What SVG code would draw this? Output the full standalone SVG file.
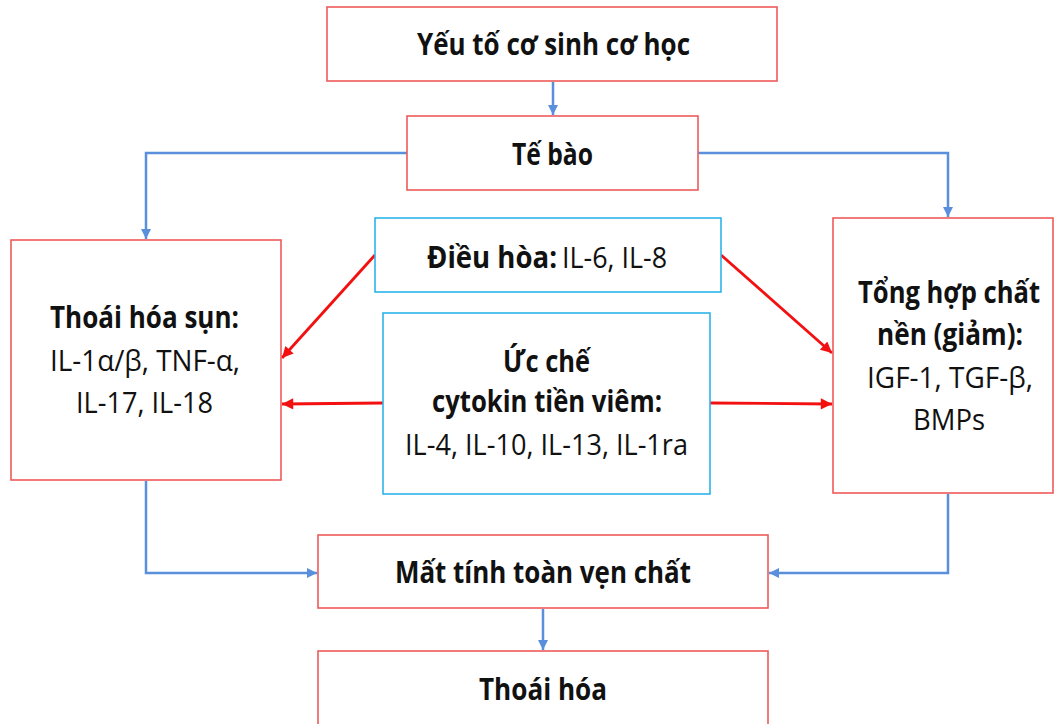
<svg xmlns="http://www.w3.org/2000/svg" width="1055" height="724" viewBox="0 0 1055 724">
  <style>
    .box { fill: #ffffff; stroke: #ee5a5a; stroke-width: 1.6; }
    .cbox { fill: #ffffff; stroke: #2bb5ea; stroke-width: 1.6; }
    .t { font-family: "Open Sans", "Noto Sans", "DejaVu Sans", sans-serif; font-size: 30px; fill: #111111; }
    .b { font-weight: bold; }
    .blue { fill: none; stroke: #5a8fdc; stroke-width: 2.5; marker-end: url(#ab); }
    .red { fill: none; stroke: #f21010; stroke-width: 2.8; marker-end: url(#ar); }
  </style>
  <defs>
    <marker id="ab" viewBox="0 0 10 10" refX="10" refY="5" markerWidth="4" markerHeight="4" markerUnits="strokeWidth" orient="auto">
      <path d="M0,0 L10,5 L0,10 Z" fill="#5a8fdc"/>
    </marker>
    <marker id="ar" viewBox="0 0 10 10" refX="10" refY="5" markerWidth="5" markerHeight="4" markerUnits="strokeWidth" orient="auto">
      <path d="M0,0 L10,5 L0,10 Z" fill="#f21010"/>
    </marker>
  </defs>
  <rect width="1055" height="724" fill="#ffffff"/>

  <!-- connectors -->
  <g id="connectors">
    <path class="blue" d="M553,82 L553,115"/>
    <path class="blue" d="M407,153 L146,153 L146,239"/>
    <path class="blue" d="M698,153 L948,153 L948,217"/>
    <path class="blue" d="M146,481 L146,573 L317,573"/>
    <path class="blue" d="M948,494 L948,573 L769,573"/>
    <path class="blue" d="M543,609 L543,650"/>
    <path class="red" d="M375,255 L282,358"/>
    <path class="red" d="M383,403 L282,404"/>
    <path class="red" d="M721,255 L832,353"/>
    <path class="red" d="M710,403 L832,404"/>
  </g>

  <g id="n-yeuto">
    <rect class="box" x="327" y="7" width="450" height="74"/>
    <text class="t b" x="417" y="55" textLength="273" lengthAdjust="spacingAndGlyphs">Yếu tố cơ sinh cơ học</text>
  </g>

  <g id="n-tebao">
    <rect class="box" x="407" y="116" width="291" height="74"/>
    <text class="t b" x="512" y="165" textLength="81" lengthAdjust="spacingAndGlyphs">Tế bào</text>
  </g>

  <g id="n-thoaihoasun">
    <rect class="box" x="11" y="240" width="270" height="240"/>
    <text class="t b" x="50" y="328" textLength="189" lengthAdjust="spacingAndGlyphs">Thoái hóa sụn:</text>
    <text class="t" x="50" y="371" textLength="190" lengthAdjust="spacingAndGlyphs">IL-1α/β, TNF-α,</text>
    <text class="t" x="76" y="413" textLength="137" lengthAdjust="spacingAndGlyphs">IL-17, IL-18</text>
  </g>

  <g id="n-dieuhoa">
    <rect class="cbox" x="375" y="218" width="346" height="74"/>
    <text class="t b" x="427" y="268" textLength="130" lengthAdjust="spacingAndGlyphs">Điều hòa:</text>
    <text class="t" x="562" y="268" textLength="105" lengthAdjust="spacingAndGlyphs">IL-6, IL-8</text>
  </g>

  <g id="n-ucche">
    <rect class="cbox" x="383" y="313" width="327" height="181"/>
    <text class="t b" x="503" y="372" textLength="87" lengthAdjust="spacingAndGlyphs">Ức chế</text>
    <text class="t b" x="432" y="412" textLength="230" lengthAdjust="spacingAndGlyphs">cytokin tiền viêm:</text>
    <text class="t" x="405" y="455" textLength="283" lengthAdjust="spacingAndGlyphs">IL-4, IL-10, IL-13, IL-1ra</text>
  </g>

  <g id="n-tonghop">
    <rect class="box" x="833" y="218" width="220" height="275"/>
    <text class="t b" x="858" y="303" textLength="182" lengthAdjust="spacingAndGlyphs">Tổng hợp chất</text>
    <text class="t b" x="877" y="345" textLength="146" lengthAdjust="spacingAndGlyphs">nền (giảm):</text>
    <text class="t" x="867" y="388" textLength="166" lengthAdjust="spacingAndGlyphs">IGF-1, TGF-β,</text>
    <text class="t" x="913" y="430" textLength="72" lengthAdjust="spacingAndGlyphs">BMPs</text>
  </g>

  <g id="n-mattinh">
    <rect class="box" x="318" y="535" width="450" height="73"/>
    <text class="t b" x="395" y="583" textLength="296" lengthAdjust="spacingAndGlyphs">Mất tính toàn vẹn chất</text>
  </g>

  <g id="n-thoaihoa">
    <rect class="box" x="318" y="651" width="450" height="80"/>
    <text class="t b" x="479" y="700" textLength="128" lengthAdjust="spacingAndGlyphs">Thoái hóa</text>
  </g>
</svg>
